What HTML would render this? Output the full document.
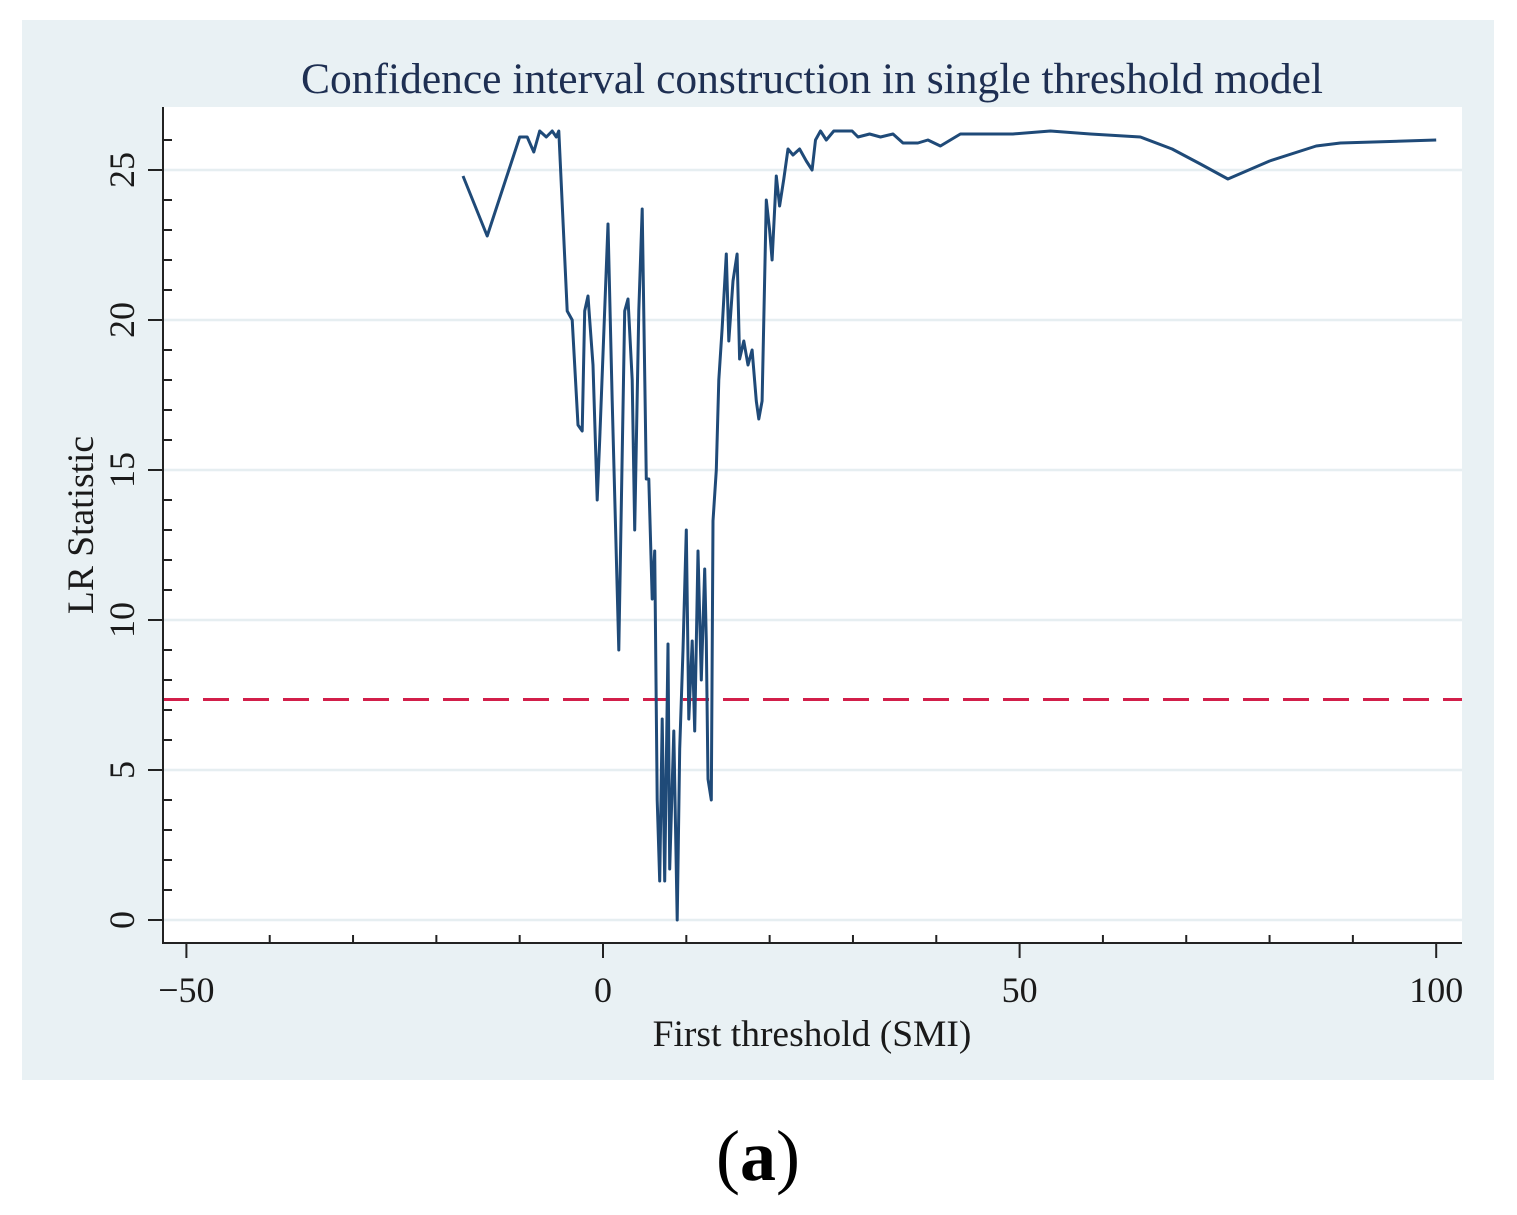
<!DOCTYPE html>
<html><head><meta charset="utf-8"><style>
html,body{margin:0;padding:0;background:#fff;}
svg{display:block;font-family:"Liberation Serif",serif;}
</style></head><body>
<svg id="chart" width="1517" height="1215" viewBox="0 0 1517 1215">
<rect x="22" y="20" width="1472" height="1060" fill="#e9f1f4"/>
<rect x="163" y="107" width="1299" height="836" fill="#ffffff"/>
<text x="812" y="93" text-anchor="middle" font-size="43.5" fill="#1e2f52">Confidence interval construction in single threshold model</text>
<g id="grid"></g>
<g id="series"></g>
<g id="axes"></g>
<text x="812" y="1046" text-anchor="middle" font-size="37.5" fill="#1a1a1a">First threshold (SMI)</text>
<text transform="translate(93,525) rotate(-90)" text-anchor="middle" font-size="37.5" fill="#1a1a1a">LR Statistic</text>
<text x="758" y="1180" text-anchor="middle" font-size="72" fill="#000">(<tspan font-weight="bold">a</tspan>)</text>
</svg>
<script>
const xVals=[-16.8,-13.9,-10,-9.1,-8.3,-7.6,-6.8,-6.1,-5.6,-5.3,-4.3,-3.7,-3,-2.5,-2.2,-1.8,-1.6,-1.2,-0.7,-0.4,0.6,1.1,1.9,2.6,3,3.5,3.8,4.3,4.7,5.2,5.5,5.9,6.2,6.5,6.8,7.1,7.4,7.8,8,8.5,8.9,9.2,9.6,10,10.3,10.7,11,11.4,11.8,12.2,12.4,12.6,13,13.2,13.6,13.9,14.3,14.8,15.1,15.6,16.1,16.4,16.9,17.4,17.9,18.4,18.7,19.1,19.6,20,20.3,20.8,21.2,21.7,22.2,22.8,23.6,24.4,25.1,25.5,26.1,26.8,27.7,29.9,30.6,32,33.3,34.8,36,37.8,39,40.5,41.7,42.9,45.3,49.2,53.7,58.5,64.5,68.3,71.7,75,80,85.6,88.5,100];
const lrVals=[24.8,22.8,26.1,26.1,25.6,26.3,26.1,26.3,26.1,26.3,20.3,20,16.5,16.3,20.3,20.8,20,18.5,14,16,23.2,17.3,9,20.3,20.7,18,13,20.3,23.7,14.7,14.7,10.7,12.3,4,1.3,6.7,1.3,9.2,1.7,6.3,0,5.7,9,13,6.7,9.3,6.3,12.3,8,11.7,9.3,4.7,4,13.3,15,18,19.7,22.2,19.3,21.3,22.2,18.7,19.3,18.5,19,17.3,16.7,17.3,24,23,22,24.8,23.8,24.7,25.7,25.5,25.7,25.3,25,26,26.3,26,26.3,26.3,26.1,26.2,26.1,26.2,25.9,25.9,26,25.8,26,26.2,26.2,26.2,26.3,26.2,26.1,25.7,25.2,24.7,25.3,25.8,25.9,26];
const criticalValue=[7.35];
const xTicks=[-50,0,50,100];
const yTicks=[0,5,10,15,20,25];
const NS='http://www.w3.org/2000/svg';
const X=v=>603+v*8.332;
const Y=v=>920-v*30;
function mk(tag,attrs,parent){const e=document.createElementNS(NS,tag);for(const k in attrs)e.setAttribute(k,attrs[k]);parent.appendChild(e);return e;}
const grid=document.getElementById('grid'),series=document.getElementById('series'),axes=document.getElementById('axes');
yTicks.forEach(t=>{
  const g=mk('line',{x1:163,x2:1462,y1:Y(t),y2:Y(t),stroke:'#e6eef1','stroke-width':2.5},grid);
  
  
});
const cv=mk('line',{x1:163,x2:1462,y1:Y(criticalValue[0]),y2:Y(criticalValue[0]),stroke:'#d21f4a','stroke-width':3,'stroke-dasharray':'26 14'},series);


const pts=xVals.map((x,i)=>X(x).toFixed(1)+','+Y(lrVals[i]).toFixed(1)).join(' ');
const pl=mk('polyline',{points:pts,fill:'none',stroke:'#1f4a78','stroke-width':3,'stroke-linejoin':'round'},series);


const ya=mk('line',{x1:163,x2:163,y1:107,y2:944,stroke:'#222','stroke-width':2},axes);


const xa=mk('line',{x1:162,x2:1462,y1:943,y2:943,stroke:'#222','stroke-width':2},axes);


for(let v=0;v<=26;v++){
  if(v%5===0)continue;
  const m=mk('line',{x1:163,x2:172,y1:Y(v),y2:Y(v),stroke:'#222','stroke-width':2},axes);
  
  
}
for(let v=-40;v<=100;v+=10){
  if(v%50===0)continue;
  const m=mk('line',{x1:X(v),x2:X(v),y1:943,y2:935,stroke:'#222','stroke-width':2},axes);
  
  
}
yTicks.forEach(t=>{
  const l=mk('line',{x1:148,x2:163,y1:Y(t),y2:Y(t),stroke:'#222','stroke-width':2},axes);
  
  
  const tx=mk('text',{transform:'translate(134,'+Y(t)+') rotate(-90)','text-anchor':'middle','font-size':36,fill:'#1a1a1a'},axes);
  tx.textContent=t;
  
  
});
xTicks.forEach(t=>{
  const l=mk('line',{x1:X(t),x2:X(t),y1:943,y2:958,stroke:'#222','stroke-width':2},axes);
  
  
  const tx=mk('text',{x:X(t),y:1002,'text-anchor':'middle','font-size':36,fill:'#1a1a1a'},axes);
  tx.textContent=t<0?'\u2212'+Math.abs(t):t;
  
  
});
</script>
</body></html>
